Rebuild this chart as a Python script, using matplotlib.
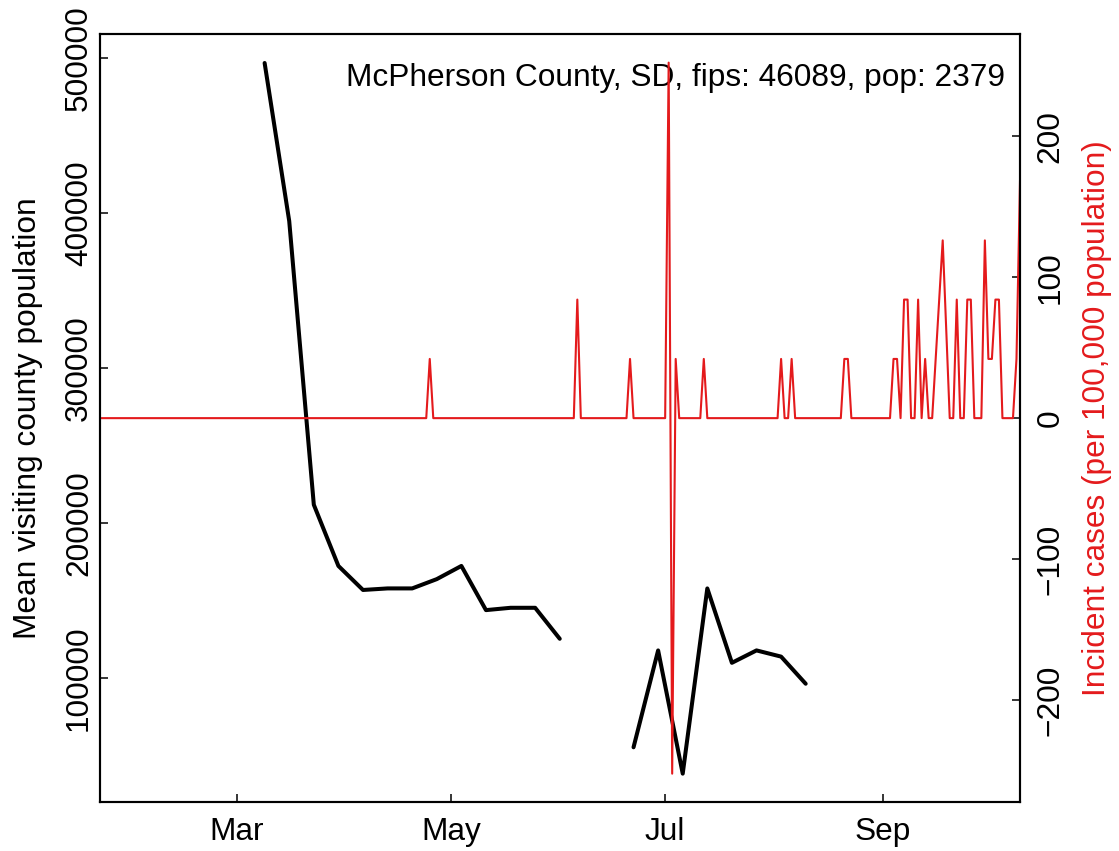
import matplotlib
matplotlib.use("Agg")
import matplotlib.pyplot as plt
import numpy as np
import pandas as pd

plt.rcParams['font.family'] = ['Liberation Sans', 'DejaVu Sans']
plt.rcParams['font.size'] = 22.8

RED = '#E41A1C'

# weekly mean visiting county population (NaN = missing week)
mobility_dates = ["2020-03-09", "2020-03-16", "2020-03-23", "2020-03-30", "2020-04-06",
                  "2020-04-13", "2020-04-20", "2020-04-27", "2020-05-04", "2020-05-11",
                  "2020-05-18", "2020-05-25", "2020-06-01", "2020-06-08", "2020-06-15",
                  "2020-06-22", "2020-06-29", "2020-07-06", "2020-07-13", "2020-07-20",
                  "2020-07-27", "2020-08-03", "2020-08-10"]
mobility_values = [497000, 395000, 212000, 172500, 157000,
                   158000, 158000, 164000, 172500, 144000,
                   145500, 145500, 125500, np.nan, np.nan,
                   55500, 118000, 38500, 158000, 110000,
                   118000, 114000, 96500]

# daily incident cases per 100,000 (days not listed are 0)
case_start = "2020-01-22"
case_end = "2020-10-10"
case_dates = ["2020-04-25", "2020-06-06", "2020-06-21", "2020-07-02", "2020-07-03",
              "2020-07-04", "2020-07-12", "2020-08-03", "2020-08-06", "2020-08-21",
              "2020-08-22", "2020-09-04", "2020-09-05", "2020-09-07", "2020-09-08",
              "2020-09-11", "2020-09-13", "2020-09-16", "2020-09-17", "2020-09-18",
              "2020-09-19", "2020-09-22", "2020-09-25", "2020-09-26", "2020-09-30",
              "2020-10-01", "2020-10-02", "2020-10-03", "2020-10-04", "2020-10-09",
              "2020-10-10"]
case_values = [42.0, 84.1, 42.0, 252.2, -252.2,
               42.0, 42.0, 42.0, 42.0, 42.0,
               42.0, 42.0, 42.0, 84.1, 84.1,
               84.1, 42.0, 42.0, 84.1, 126.1,
               63.0, 84.1, 84.1, 84.1, 126.1,
               42.0, 42.0, 84.1, 84.1, 42.0,
               168.1]

month_ticks = ["2020-03-01", "2020-05-01", "2020-07-01", "2020-09-01"]
month_labels = ["Mar", "May", "Jul", "Sep"]

title = "McPherson County, SD, fips: 46089, pop: 2379"

mob = pd.Series(mobility_values, index=pd.to_datetime(mobility_dates))
cases = pd.Series(0.0, index=pd.date_range(case_start, case_end, freq="D"))
cases[pd.to_datetime(case_dates)] = case_values

fig = plt.figure(figsize=(11.19, 8.51), dpi=100)
ax = fig.add_axes([99.5 / 1119, 1 - 802 / 851, 920.5 / 1119, 768 / 851])
ax2 = ax.twinx()

ax.plot(mob.index, mob.values, color='black', lw=2.9,
        solid_capstyle='round', solid_joinstyle='round')
ax2.plot(cases.index, cases.values, color=RED, lw=1.5)

ax.set_xlim(pd.Timestamp(case_start), pd.Timestamp(case_end))
ax.set_ylim(20200, 515700)
ax2.set_ylim(-272.3, 272.5)

ax.set_xticks(pd.to_datetime(month_ticks))
ax.set_xticklabels(month_labels)
ax.set_yticks([100000, 200000, 300000, 400000, 500000])
ax.set_yticklabels(["100000", "200000", "300000", "400000", "500000"],
                   rotation=90, va='center')
ax2.set_yticks([-200, -100, 0, 100, 200])
ax2.set_yticklabels(["\u2212200", "\u2212100", "0", "100", "200"],
                    rotation=90, va='center')

ax.tick_params(axis='x', direction='in', length=5.5, width=1.1, pad=10.8)
ax.tick_params(axis='y', direction='in', length=5.5, width=1.1, pad=4)
ax2.tick_params(axis='y', direction='in', length=5.5, width=1.1, pad=11)

for a in (ax, ax2):
    for s in a.spines.values():
        s.set_linewidth(1.5)

ax.text(0.9837, 0.9323, title, transform=ax.transAxes, ha='right', va='baseline')

fig.text(28 / 1119, 1 - 418 / 851, "Mean visiting county population",
         rotation=90, ha='center', va='center')
fig.text(1097 / 1119, 1 - 418 / 851, "Incident cases (per 100,000 population)",
         rotation=90, ha='center', va='center', color=RED)

fig.savefig("out.png", dpi=100)
